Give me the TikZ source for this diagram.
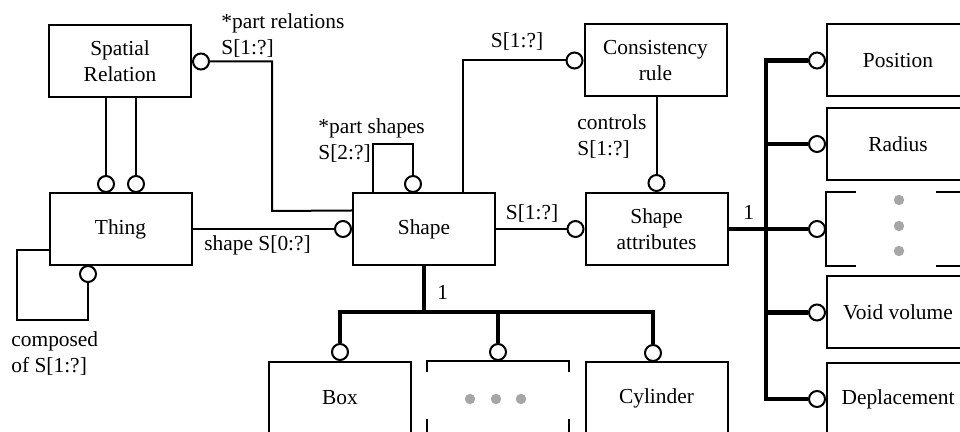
\documentclass[tikz,border=0pt]{standalone}
\usepackage{fontspec}
\setmainfont{Liberation Serif}
\usetikzlibrary{positioning, calc}

\tikzset{
	entity/.style = {draw, line width = 1pt, minimum width = 71pt, minimum height = 36pt, inner sep = 0pt, align = center},
	ring/.style = {circle, draw, fill = white, line width = 1pt, minimum size = 8pt, inner sep = 0pt},
	link/.style = {line width = 1pt},
	heavy/.style = {line width = 2.3pt},
	tag/.style = {inner sep = 0pt, align = left},
	grain/.style = {fill = gray!70}
}

\begin{document}
\begin{tikzpicture}[x = 0.5pt, y = -0.5pt, font = \fontsize{10.7}{13}\selectfont]

	\useasboundingbox (0, 0) rectangle (960, 432);
	\clip (0, 0) rectangle (960, 432);

	% Entities
	
	\node [entity] (sr) at (120, 61.5) {Spatial\\Relation};
	\node [entity] (thing) at (120.5, 229) {Thing};
	\node [entity] (shp) at (424, 229) {Shape};
	\node [entity] (cr) at (655.5, 60.5) {Consistency\\rule};
	\node [entity] (att) at (656.5, 229) {Shape\\attributes};
	
	% Attribute kinds (cut by the right edge)
	
	\node [entity] (pos) at (898, 60.5) {Position};
	\node [entity] (rad) at (898, 144) {Radius};
	\node [entity, draw = none] (dR) at (898, 229) {};
	\node [entity] (void) at (898, 312.5) {Void volume};
	\node [entity] (depl) at (898, 399) {Deplacement};
	
	% Shape kinds (cut by the bottom edge)
	
	\node [entity] (box) at (340, 398) {Box};
	\node [entity, draw = none, minimum width = 70pt] (dB) at (498, 398) {};
	\node [entity] (cyl) at (656.5, 398) {Cylinder};
	
	% Open gaps of the two elided boxes
	
	\begin{scope}[link]
	
		\draw ($(dR.north west) + (30, 0)$) -- (dR.north west) -- (dR.south west) -- ($(dR.south west) + (30, 0)$);
		\draw ($(dR.north west) + (110, 0)$) -- (dR.north east);
		\draw ($(dR.south west) + (110, 0)$) -- (dR.south east);
		
		\draw ($(dB.north west) + (0, 11)$) -- (dB.north west) -- (dB.north east) -- ($(dB.north east) + (0, 11)$);
		\draw ($(dB.north west) + (0, 58)$) -- (dB.south west);
		\draw ($(dB.north east) + (0, 58)$) -- (dB.south east);
		
	\end{scope}
	
	\foreach \dy in {-29, -3, 22}
		\fill [grain] ($(dR.center) + (1, \dy)$) circle (2.6pt);
	\foreach \dx in {-28, -2, 23}
		\fill [grain] ($(dB.center) + (\dx, 1)$) circle (2.6pt);

	% Optional ends
	
	\node [ring, anchor = west] (kSR) at (sr.east) {};
	\node [ring, anchor = south] (kTA) at (106, 193) {};
	\node [ring, anchor = south] (kTB) at (136, 193) {};
	\node [ring, anchor = north] (kTL) at (88, 265) {};
	\node [ring, anchor = east] (kShp) at (shp.west) {};
	\node [ring, anchor = south] (kPart) at (413, 193) {};
	\node [ring, anchor = east] (kCR) at (cr.west) {};
	\node [ring, anchor = south] (kAttN) at (att.north) {};
	\node [ring, anchor = east] (kAtt) at (att.west) {};
	
	\foreach \n/\k in {pos/kPos, rad/kRad, dR/kDot, void/kVoid, depl/kDep}
		\node [ring, anchor = east] (\k) at (\n.west) {};
		
	\node [ring, anchor = south] (kBox) at (box.north) {};
	\node [ring, anchor = south] (kDotB) at (dB.north) {};
	\node [ring, anchor = south] (kCyl) at (653, 362) {};
	
	% Relations
	
	\begin{scope}[link]
	
		\coordinate (shpIn) at ($(shp.north west)!0.25!(shp.south west)$);
		\draw (kSR) -| (272, 211) -- (shpIn);
		
		\draw (sr.south -| kTA) -- (kTA);
		\draw (sr.south -| kTB) -- (kTB);
		
		\draw (thing.west |- 0, 250) -| (17, 320) -| (kTL);
		\draw (thing) -- (kShp);
		
		\draw (shp.north -| 373, 0) |- (kPart.north |- 0, 144) -- (kPart);
		\draw (shp.north -| 463, 0) |- (kCR);
		\draw (cr.south -| kAttN) -- (kAttN);
		\draw (shp) -- (kAtt);
	
	\end{scope}
	
	% Subtype trees
	
	\begin{scope}[heavy]
	
		\coordinate (trunk) at (766, 229);
		\draw (kPos) -| (trunk) |- (kDep);
		\draw (att.east) -- (kDot);
		\draw (kRad) -- (kRad -| trunk);
		\draw (kVoid) -- (kVoid -| trunk);
		
		\coordinate (fork) at (shp.south |- 0, 312);
		\draw (shp.south) -- (fork);
		\draw (kBox) |- (fork) -| (kCyl);
		\draw (fork -| kDotB) -- (kDotB);
	
	\end{scope}
	
	% Role names
	
	\node [tag, anchor = north west] (lRel) at (221, 13) {*part relations\\S[1:?]};
	\node [tag, anchor = base] (lCons) at (517, 48) {S[1:?]};
	\node [tag, anchor = north west] (lPart) at (318, 118) {*part shapes\\S[2:?]};
	\node [tag, anchor = north west] (lCtrl) at (577, 114) {controls\\S[1:?]};
	\node [tag, anchor = base] (lAtt) at (532, 220) {S[1:?]};
	\node [tag, anchor = base west] (lThing) at (204, 251) {shape S[0:?]};
	\node [tag, anchor = north west] (lComp) at (11, 331) {composed\\of S[1:?]};
	\node [tag, anchor = base west] (lOneB) at (437, 300) {1};
	\node [tag, anchor = base west] (lOneR) at (743, 220) {1};

\end{tikzpicture}
\end{document}
